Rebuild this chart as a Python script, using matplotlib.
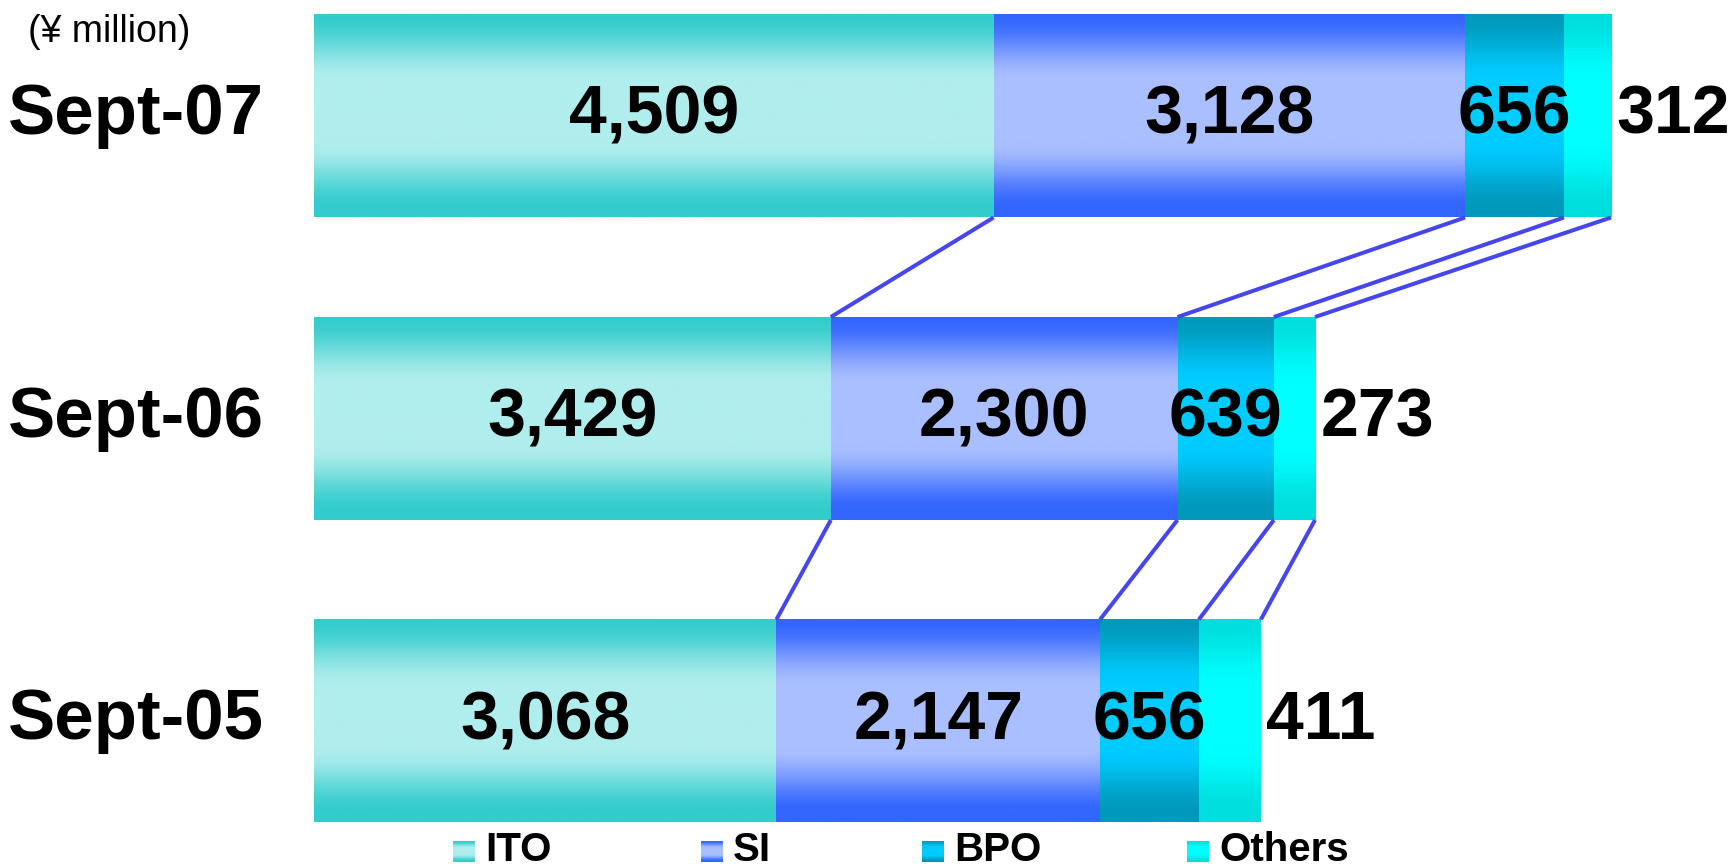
import numpy as np
import matplotlib
matplotlib.use("Agg")
import matplotlib.pyplot as plt
from matplotlib.colors import to_rgb
from matplotlib.transforms import blended_transform_factory

# ---- data (¥ million) ----
periods = ["Sept-05", "Sept-06", "Sept-07"]
segments = ["ITO", "SI", "BPO", "Others"]
ito = [3068, 3429, 4509]
si = [2147, 2300, 3128]
bpo = [656, 639, 656]
others = [411, 273, 312]

# dark edge colour, light centre colour per segment
dark = {"ITO": "#33CCCC", "SI": "#3366FF", "BPO": "#0099BB", "Others": "#00DDDD"}
light = {"ITO": "#B0EDED", "SI": "#AABFFF", "BPO": "#00CCFF", "Others": "#00FFFF"}
LINK_COLOR = "#4646EE"
FONT = "Liberation Sans"

W, H = 1732, 868
fig = plt.figure(figsize=(W / 100, H / 100), dpi=100)

# axes: x in ¥ million, y in bar index
left_px, right_px = 314, 1611
ax = fig.add_axes([left_px / W, 0, (right_px - left_px) / W, 1])
ax.set_axis_off()


def gradient(name, n=200):
    t = np.linspace(0, 1, n)
    d = np.abs(t - 0.48)
    w = 1 - np.clip((d - 0.15) / 0.33, 0, 1)
    w = w * w * (3 - 2 * w)
    c0 = np.array(to_rgb(dark[name]))
    c1 = np.array(to_rgb(light[name]))
    rgb = c0[None, :] * (1 - w[:, None]) + c1[None, :] * w[:, None]
    return rgb[:, None, :]


data = {"ITO": ito, "SI": si, "BPO": bpo, "Others": others}
bar_h = 0.671
totals = [sum(data[s][i] for s in segments) for i in range(len(periods))]
edges = []  # cumulative boundaries per period
label_tf = blended_transform_factory(fig.transFigure, ax.transData)

for i, period in enumerate(periods):
    start = 0
    bounds = []
    for s in segments:
        v = data[s][i]
        ax.imshow(gradient(s), extent=[start, start + v, i - bar_h / 2, i + bar_h / 2],
                  aspect="auto", interpolation="bilinear", zorder=2)
        if s == "Others":
            ax.annotate(f"{v:,}", xy=(start + v, i), xytext=(4, 0), textcoords="offset points",
                        ha="left", va="center", fontsize=49, fontweight="bold",
                        family=FONT, annotation_clip=False, zorder=4)
        else:
            ax.text(start + v / 2, i, f"{v:,}", ha="center", va="center", fontsize=49,
                    fontweight="bold", family=FONT, zorder=4)
        start += v
        bounds.append(start)
    edges.append(bounds)
    fig.text(8 / W, i, period, fontsize=51, fontweight="bold", family=FONT,
             ha="left", va="center", transform=label_tf)

# connector lines between consecutive bars
for i in range(len(periods) - 1, 0, -1):
    for xa, xb in zip(edges[i], edges[i - 1]):
        ax.plot([xa, xb], [i - bar_h / 2, i - 1 + bar_h / 2], color=LINK_COLOR,
                lw=2.9, solid_capstyle="butt", zorder=3, clip_on=False)

ax.set_xlim(0, max(totals))
ax.set_ylim(-147 / 302.5, (H - 147) / 302.5)

fig.text(28 / W, 1 - 32 / H, "(¥ million)", fontsize=27, family=FONT, ha="left", va="center")

# legend
leg_sq_x = [453, 701, 922, 1187]
for s, x0 in zip(segments, leg_sq_x):
    lax = fig.add_axes([x0 / W, (H - 862) / H, 22 / W, 21 / H])
    lax.imshow(gradient(s), aspect="auto", interpolation="bilinear")
    lax.set_axis_off()
    fig.text((x0 + 32) / W, (H - 861) / H, s, fontsize=29, fontweight="bold",
             family=FONT, ha="left", va="baseline")

fig.savefig("out.png", dpi=100, facecolor="white")
